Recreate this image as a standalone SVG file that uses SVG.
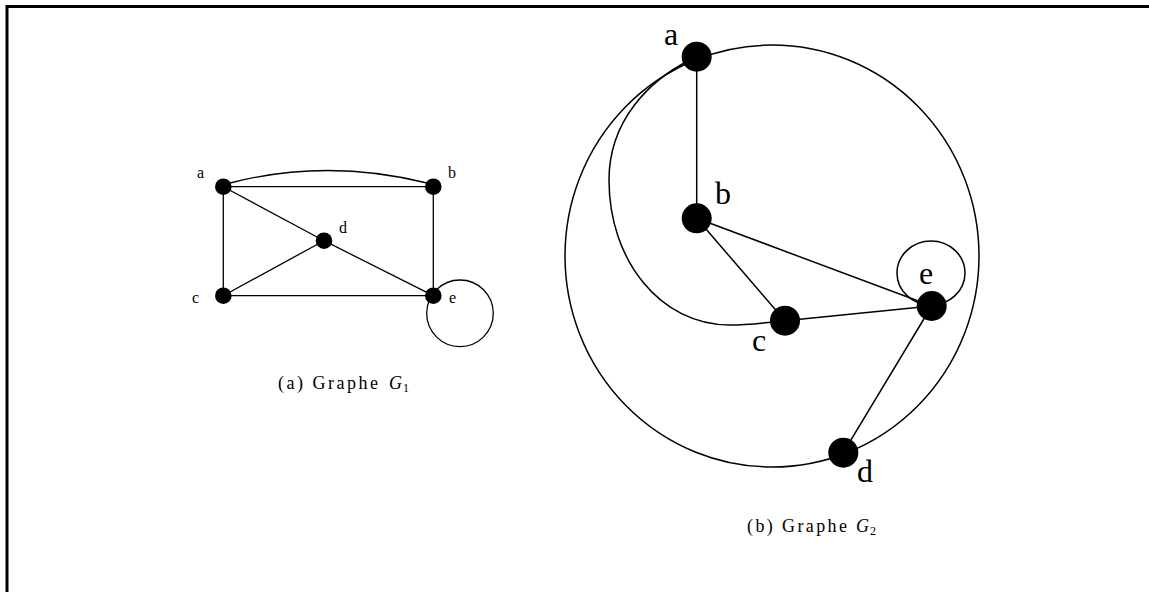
<svg xmlns="http://www.w3.org/2000/svg" width="1149" height="592" viewBox="0 0 1149 592">
<style>
.e1{stroke:#000;stroke-width:1.3;fill:none}
.e2{stroke:#000;stroke-width:1.5;fill:none}
.n{fill:#000}
.l1{font-family:"Liberation Serif",serif;font-size:16px;fill:#000}
.l2{font-family:"Liberation Serif",serif;font-size:32px;fill:#000}
.cap{font-family:"Liberation Serif",serif;font-size:18px;fill:#000}
.sub{font-family:"Liberation Serif",serif;font-size:12px;fill:#000}
</style>
<rect width="1149" height="592" fill="#fff"/>
<path d="M7,592 V6.5 H1149" stroke="#000" stroke-width="3" fill="none"/>
<g id="connectors">
<g id="g1-edges">
<path class="e1" d="M230,183 Q327,158 427,183"/>
<line class="e1" x1="223.3" y1="186.7" x2="433.3" y2="186.7"/>
<line class="e1" x1="223.3" y1="186.7" x2="223.3" y2="295.7"/>
<line class="e1" x1="433.3" y1="186.7" x2="433.3" y2="295.7"/>
<line class="e1" x1="223.3" y1="295.7" x2="433.3" y2="295.7"/>
<line class="e1" x1="223.3" y1="186.7" x2="324" y2="240.7"/>
<line class="e1" x1="324" y1="240.7" x2="433.3" y2="295.7"/>
<line class="e1" x1="223.3" y1="295.7" x2="324" y2="240.7"/>
<circle class="e1" cx="460" cy="313.3" r="33.3"/>
</g>
<g id="g2-edges">
<ellipse class="e2" cx="772" cy="256" rx="207" ry="211"/>
<path class="e2" d="M690,60 C650,80 609,120 609,180 C609,260 660,325 730,325 C750,325 770,322 785,321"/>
<line class="e2" x1="696.7" y1="56.7" x2="696.7" y2="218.3"/>
<line class="e2" x1="696.7" y1="218.3" x2="785" y2="320.7"/>
<line class="e2" x1="696.7" y1="218.3" x2="931.7" y2="306"/>
<line class="e2" x1="785" y1="320.7" x2="931.7" y2="306"/>
<line class="e2" x1="931.7" y1="306" x2="843.3" y2="452.7"/>
<ellipse class="e2" cx="931" cy="273" rx="34" ry="32"/>
</g>
</g>
<g id="g1-a"><circle class="n" cx="223.3" cy="186.7" r="8.3"/><text class="l1" x="197" y="178">a</text></g>
<g id="g1-b"><circle class="n" cx="433.3" cy="186.7" r="8.3"/><text class="l1" x="448" y="178">b</text></g>
<g id="g1-d"><circle class="n" cx="324" cy="240.7" r="8.3"/><text class="l1" x="339" y="233">d</text></g>
<g id="g1-c"><circle class="n" cx="223.3" cy="295.7" r="8.3"/><text class="l1" x="192" y="303">c</text></g>
<g id="g1-e"><circle class="n" cx="433.3" cy="295.7" r="8.3"/><text class="l1" x="449" y="303">e</text></g>
<g id="g2-a"><circle class="n" cx="696.7" cy="56.7" r="15"/><text class="l2" x="664" y="45">a</text></g>
<g id="g2-b"><circle class="n" cx="696.7" cy="218.3" r="15"/><text class="l2" x="715" y="204">b</text></g>
<g id="g2-c"><circle class="n" cx="785" cy="320.7" r="15"/><text class="l2" x="752" y="351">c</text></g>
<g id="g2-e"><circle class="n" cx="931.7" cy="306" r="15"/><text class="l2" x="919" y="284">e</text></g>
<g id="g2-d"><circle class="n" cx="843.3" cy="452.7" r="15"/><text class="l2" x="857" y="482">d</text></g>
<g id="caption-a">
<text class="cap" x="278" y="389" textLength="100" lengthAdjust="spacing">(a) Graphe</text>
<text class="cap" x="389" y="389" font-style="italic">G</text>
<text class="sub" x="403" y="392">1</text>
</g>
<g id="caption-b">
<text class="cap" x="747" y="532" textLength="100" lengthAdjust="spacing">(b) Graphe</text>
<text class="cap" x="856" y="532" font-style="italic">G</text>
<text class="sub" x="870" y="535">2</text>
</g>
</svg>
